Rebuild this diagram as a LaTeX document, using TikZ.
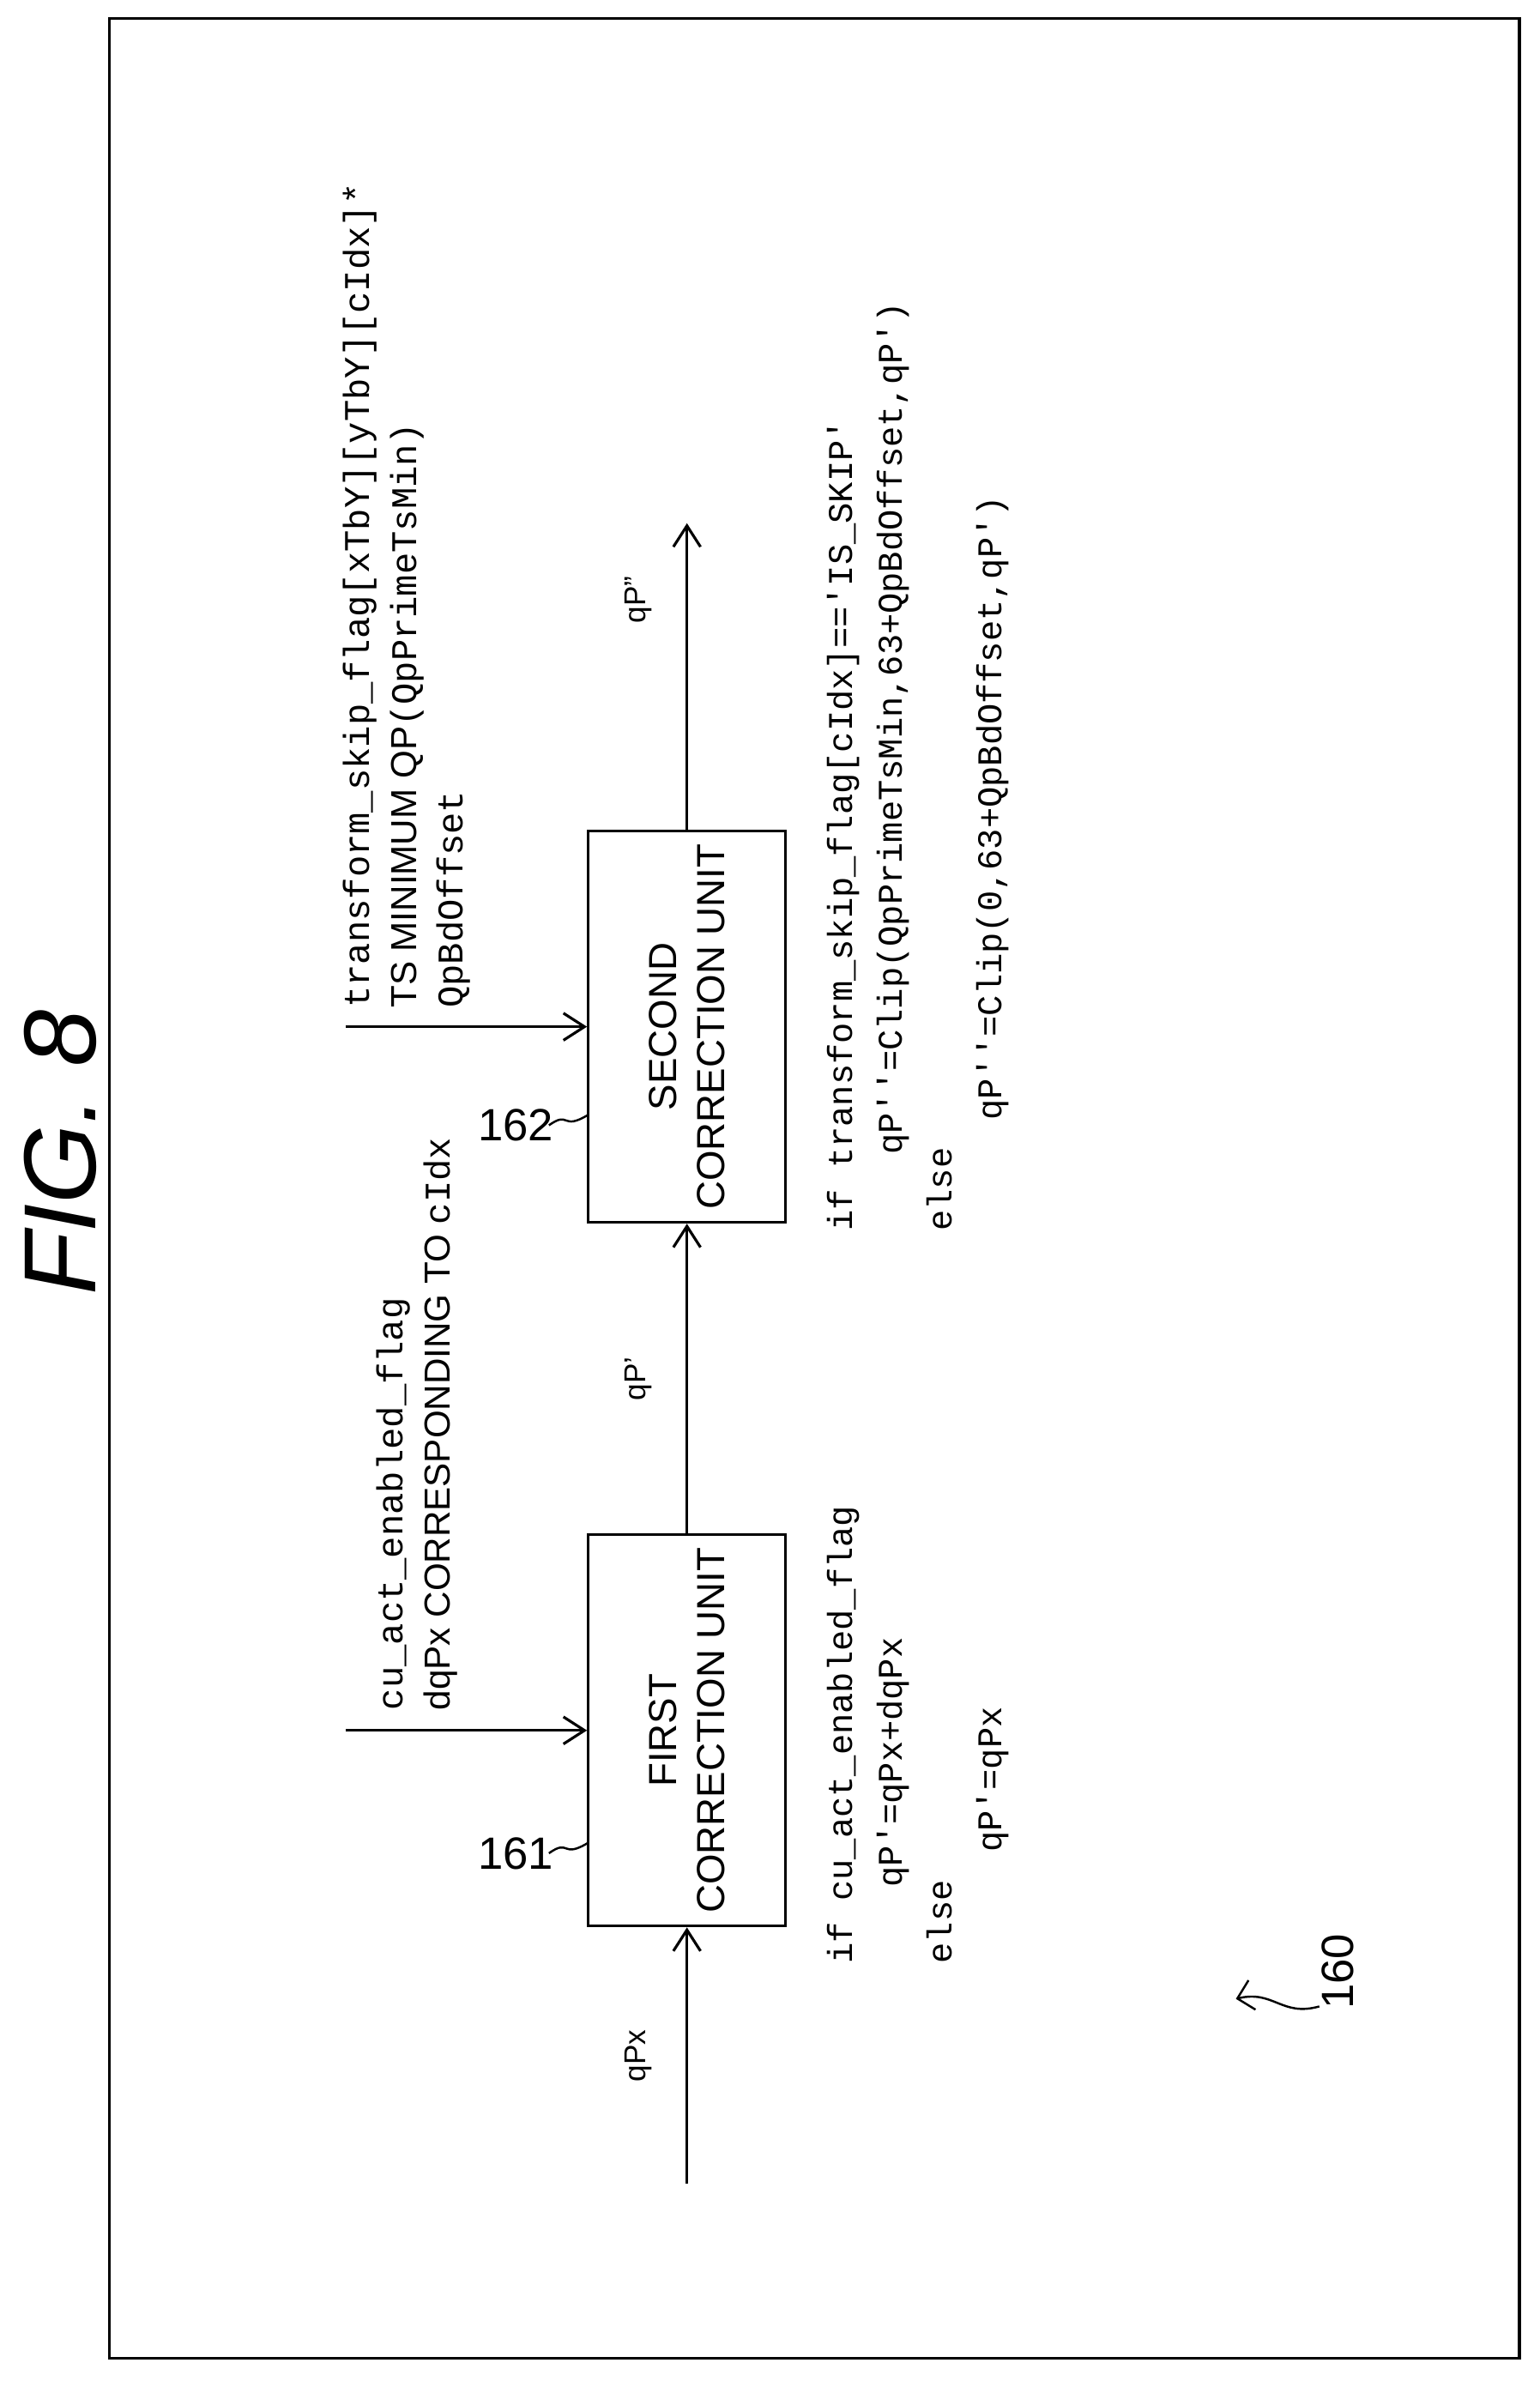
\documentclass[tikz,border=0pt]{standalone}
\usepackage{fontspec}
\setmainfont{Liberation Sans}
\newfontfamily\codefont{Liberation Mono}
\usetikzlibrary{arrows.meta}
\begin{document}
\begin{tikzpicture}[x=0.01768cm,y=-0.01768cm,
  unit/.style={draw,line width=0.9pt,minimum width=0.01768cm*258,minimum height=0.01768cm*130,inner sep=0pt},
  flow/.style={line width=0.9pt,-{Straight Barb[length=7pt,width=9pt]}},
  txt/.style={rotate=90,anchor=north west,align=left,inner sep=0pt,font=\fontsize{12}{15.5}\selectfont},
  code/.style={txt,font=\codefont\fontsize{11.5}{16.5}\selectfont}]
\useasboundingbox (0,0) rectangle (1015,1570);
\draw[line width=0.9pt] (72,12) rectangle (1002,1555);
\node[rotate=90,font=\itshape\fontsize{34}{34}\selectfont] (fig) at (40,760) {FIG. 8};
% units
\node[unit,rotate=90,align=center,font=\fontsize{13}{16}\selectfont] (first) at (453,1141) {FIRST\\CORRECTION UNIT};
\node[unit,rotate=90,align=center,font=\fontsize{13}{16}\selectfont] (second) at (453,677) {SECOND\\CORRECTION UNIT};
\coordinate (in) at (453,1440);
\coordinate (out) at (453,345);
\draw[flow] (in) -- (first.west) node[pos=0.5,left=8pt,rotate=90,anchor=south] {qPx};
\draw[flow] (first.east) -- (second.west) node[pos=0.5,left=8pt,rotate=90,anchor=south] {qP'};
\draw[flow] (second.east) -- (out) node[pos=0.75,left=8pt,rotate=90,anchor=south] {qP''};
% side inputs
\coordinate (a1) at (228,1141);
\coordinate (a2) at (228,677);
\draw[flow] (a1) -- (first.north);
\draw[flow] (a2) -- (second.north);
\node[txt] (t1) at (248,1128) {{\codefont cu\_act\_enabled\_flag}\\dqPx CORRESPONDING TO {\codefont cIdx}};
\node[txt] (t2) at (226,665) {{\codefont transform\_skip\_flag[xTbY][yTbY][cIdx]*}\\TS MINIMUM QP{\codefont(QpPrimeTsMin)}\\{\codefont QpBdOffset}};
% conditions
\node[code] (c1) at (545,1295) {if cu\_act\_enabled\_flag\\\hspace*{2.2em}qP'=qPx+dqPx\\else\\\hspace*{3.2em}qP'=qPx};
\node[code] (c2) at (545,812) {if transform\_skip\_flag[cIdx]=='IS\_SKIP'\\\hspace*{2.2em}qP''=Clip(QpPrimeTsMin,63+QpBdOffset,qP')\\else\\\hspace*{3.2em}qP''=Clip(0,63+QpBdOffset,qP')};
% reference numerals
\node[font=\fontsize{15}{15}\selectfont] (n161) at (340,1222) {161};
\draw[line width=0.7pt] (362,1222) .. controls (376,1212) and (370,1226) .. (388,1215);
\node[font=\fontsize{15}{15}\selectfont] (n162) at (340,742) {162};
\draw[line width=0.7pt] (362,742) .. controls (376,732) and (370,746) .. (388,735);
\node[rotate=90,font=\fontsize{15}{15}\selectfont] (n160) at (882,1300) {160};
\draw[line width=0.7pt,-{Straight Barb[length=5pt]}] (870,1323) .. controls (845,1330) and (840,1312) .. (815,1318);
\end{tikzpicture}
\end{document}
